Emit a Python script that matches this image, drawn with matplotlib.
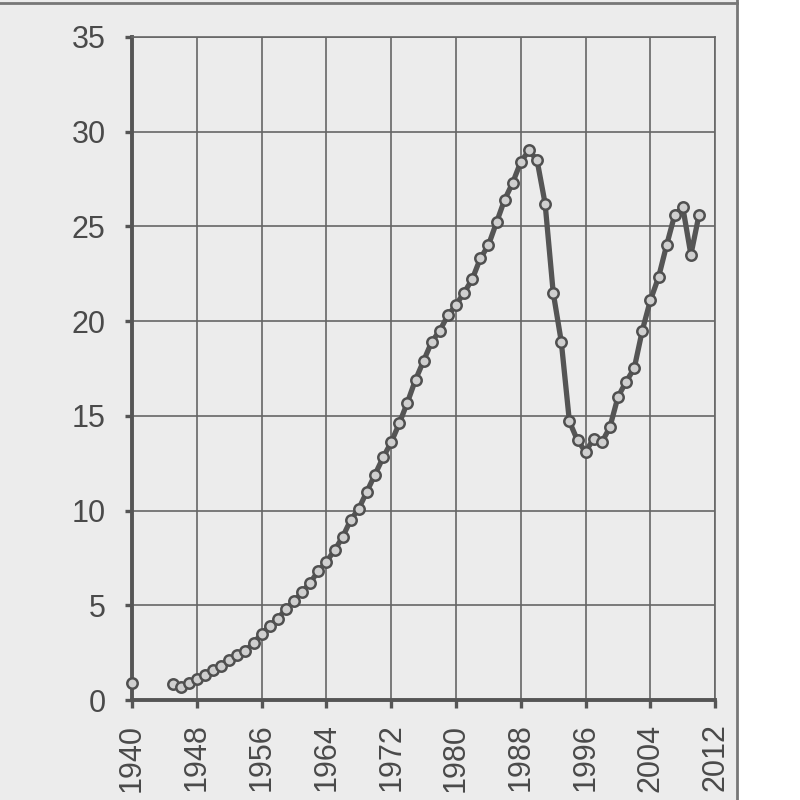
import numpy as np
import matplotlib
matplotlib.use("Agg")
import matplotlib.pyplot as plt
from matplotlib.patches import Rectangle

years = list(range(1940, 2011))
values = [0.9, np.nan, np.nan, np.nan, np.nan,
          0.85, 0.7, 0.9, 1.1, 1.3, 1.6, 1.8, 2.1, 2.35, 2.6,
          3.0, 3.5, 3.9, 4.3, 4.8, 5.2, 5.7, 6.2, 6.8, 7.3,
          7.9, 8.6, 9.5, 10.1, 11.0, 11.9, 12.8, 13.6, 14.6, 15.7,
          16.9, 17.9, 18.9, 19.5, 20.3, 20.85, 21.5, 22.2, 23.3, 24.0,
          25.2, 26.4, 27.3, 28.4, 29.0, 28.5, 26.2, 21.5, 18.9, 14.7,
          13.7, 13.1, 13.8, 13.6, 14.4, 16.0, 16.8, 17.5, 19.5, 21.1,
          22.3, 24.0, 25.6, 26.0, 23.5, 25.6]

x_ticks = list(range(1940, 2013, 8))
y_ticks = list(range(0, 36, 5))

plt.rcParams['font.family'] = ['Liberation Sans', 'DejaVu Sans']

fig = plt.figure(figsize=(8, 8), dpi=100, facecolor='#ececec')
# page edge on the right
fig.patches.append(Rectangle((0.922, 0), 0.078, 1, transform=fig.transFigure,
                             facecolor='white', edgecolor='none', zorder=0))
fig.add_artist(plt.Line2D([0.921, 0.921], [0.0, 1.0], transform=fig.transFigure,
                          color='#777777', lw=2))
fig.add_artist(plt.Line2D([0.0, 0.921], [0.996, 0.996], transform=fig.transFigure,
                          color='#777777', lw=2))

ax = fig.add_axes([0.165, 0.125, 0.729, 0.829])
ax.set_facecolor('none')

ax.plot(years, values, color='#555555', lw=3.8, marker='o', markersize=7.5,
        markerfacecolor='#cfcfcf', markeredgecolor='#505050', markeredgewidth=1.8,
        zorder=3, clip_on=False)

ax.set_xlim(1940, 2012)
ax.set_ylim(0, 35)
ax.set_xticks(x_ticks)
ax.set_yticks(y_ticks)
ax.set_xticklabels([str(t) for t in x_ticks], rotation=90)

ax.grid(True, color='#666666', lw=1.2, zorder=1)
ax.set_axisbelow(True)

for s in ['top', 'right']:
    ax.spines[s].set_color('#666666')
    ax.spines[s].set_linewidth(1.2)
for s in ['left', 'bottom']:
    ax.spines[s].set_color('#555555')
    ax.spines[s].set_linewidth(2.8)

ax.tick_params(axis='both', colors='#555555', labelcolor='#4a4a4a',
               labelsize=22, width=2.4, direction='out')
ax.tick_params(axis='y', length=5, pad=14)
ax.tick_params(axis='x', length=6, pad=11)

fig.savefig('out.png', dpi=100, facecolor=fig.get_facecolor())
